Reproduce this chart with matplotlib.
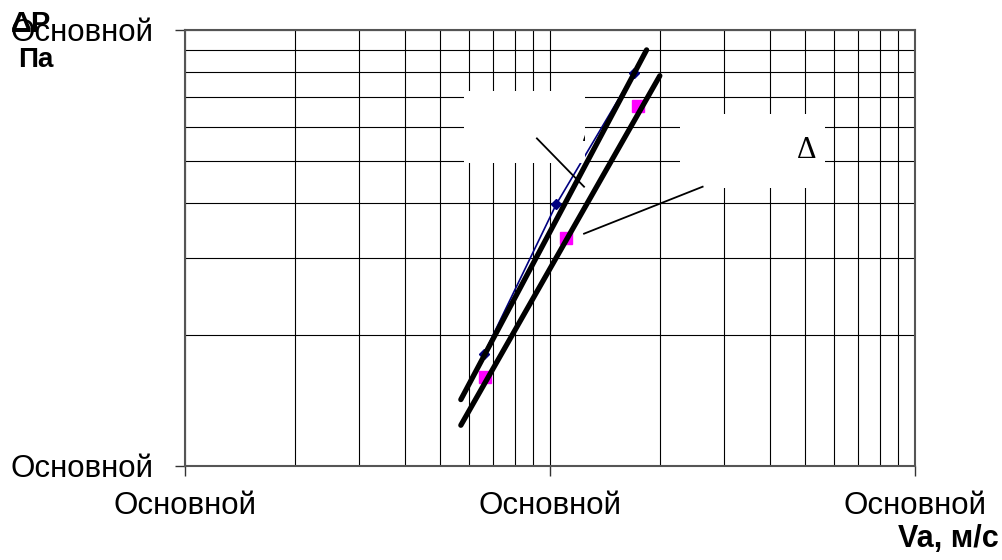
import matplotlib
matplotlib.use("Agg")
import matplotlib.pyplot as plt
from matplotlib.patches import Rectangle
from matplotlib.ticker import FixedLocator, LogLocator, NullFormatter
import numpy as np

plt.rcParams['font.family'] = ['Liberation Sans', 'DejaVu Sans']

# measured points (Va, m/s ; dP, Pa)
va1 = [6.6, 10.4, 17.0]
dp1 = [18.1, 39.8, 79.7]
va2 = [6.63, 11.06, 17.4]
dp2 = [16.0, 33.4, 67.0]

# hand-drawn approximating lines (end points)
fit1_va = [5.70, 18.4]
fit1_dp = [14.2, 90.0]
fit2_va = [5.70, 20.0]
fit2_dp = [12.4, 78.5]

xTicks = [1, 10, 100]
yTicks = [10, 100]
tickText = "Основной"

fig = plt.figure(figsize=(10.03, 5.6), dpi=100)
ax = fig.add_axes([0.1844, 0.1679, 0.7278, 0.7786])
ax.set_xscale('log')
ax.set_yscale('log')
ax.set_xlim(1, 100)
ax.set_ylim(10, 100)

## grid
ax.xaxis.set_major_locator(FixedLocator(xTicks))
ax.yaxis.set_major_locator(FixedLocator(yTicks))
ax.xaxis.set_minor_locator(LogLocator(base=10, subs=np.arange(2, 10)))
ax.yaxis.set_minor_locator(LogLocator(base=10, subs=np.arange(2, 10)))
ax.xaxis.set_minor_formatter(NullFormatter())
ax.yaxis.set_minor_formatter(NullFormatter())
ax.set_xticklabels([tickText] * len(xTicks))
ax.set_yticklabels([tickText] * len(yTicks))
ax.grid(True, which='both', color='black', linewidth=0.8, zorder=0)
ax.set_axisbelow(True)
ax.tick_params(which='major', direction='out', length=7, width=1, labelsize=22.5, color='#333333')
ax.tick_params(axis='x', which='major', pad=11)
ax.tick_params(axis='y', which='major', pad=16)
ax.tick_params(which='minor', length=0)
for s in ax.spines.values():
    s.set_color('#555555')
    s.set_linewidth(1.5)

## data
ax.plot(va1, dp1, color='#000080', marker='D', markersize=5, linewidth=1.2, zorder=3)
ax.plot(va2, dp2, color='#FF00FF', marker='s', markersize=8, linestyle='none', zorder=3)

## label boxes (white, cover the grid)
box1 = Rectangle((5.81, 49.4), 12.5 - 5.81, 72.5 - 49.4, facecolor='white', edgecolor='none', zorder=4)
box2 = Rectangle((22.7, 43.5), 56.6 - 22.7, 64.2 - 43.5, facecolor='white', edgecolor='none', zorder=4)
ax.add_patch(box1)
ax.add_patch(box2)
t1 = ax.text(13.0, 57.8, "Δ", fontsize=22, family='Liberation Serif', ha='center', va='center',
             zorder=5, clip_on=True)
t1.set_clip_path(box1)
ax.text(50.6, 52.9, "Δ", fontsize=22, family='Liberation Serif', ha='center', va='center', zorder=5)

# leader lines
ax.plot([9.21, 12.4], [56.4, 43.7], color='black', linewidth=1.3, zorder=6)
ax.plot([12.4, 26.2], [34.1, 43.7], color='black', linewidth=1.3, zorder=6)

## fit lines
ax.plot(fit1_va, fit1_dp, color='black', linewidth=3.8, solid_capstyle='round', zorder=7)
ax.plot(fit2_va, fit2_dp, color='black', linewidth=3.8, solid_capstyle='round', zorder=7)

## axis titles
fig.text(0.011, 0.957, "ΔP", fontsize=21, fontweight='bold', ha='left', va='center')
fig.text(0.018, 0.893, "Па", fontsize=20, fontweight='bold', ha='left', va='center')
fig.text(0.996, 0.037, "Va, м/с", fontsize=22, fontweight='bold', ha='right', va='center')

fig.savefig("out.png", dpi=100)
